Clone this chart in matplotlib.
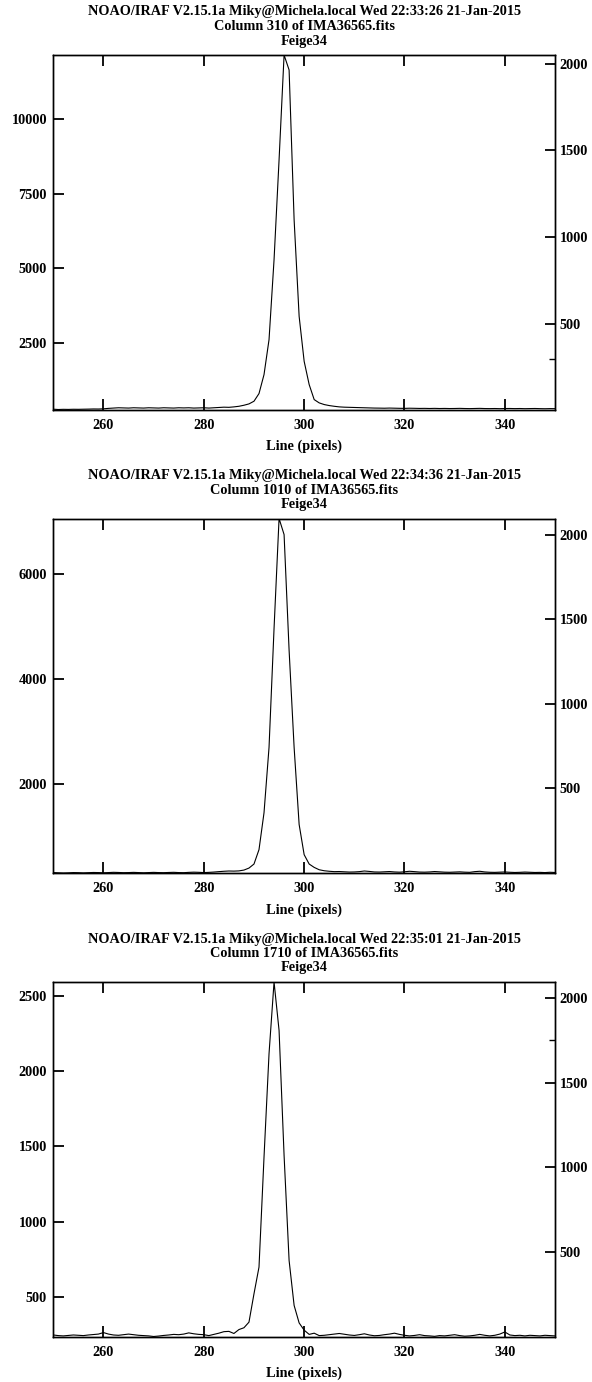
"""
Feige34 column cuts
===================
Three IRAF implot column cuts through the standard star Feige34,
redrawn with matplotlib.
"""

import numpy as np
import matplotlib
matplotlib.use("Agg")
import matplotlib.pyplot as plt

# ── Data ──────────────────────────────────────────────────────────────────────
# counts along the image lines 250..350

line_first, line_last = 250, 350

col_310 = [
    262, 252, 258, 255, 260, 258, 262, 265, 270, 268,
    275, 290, 300, 310, 305, 300, 310, 305, 300, 310,
    305, 300, 310, 305, 300, 310, 305, 310, 300, 305,
    310, 300, 310, 320, 330, 325, 340, 360, 395, 440,
    530, 787, 1424, 2598, 5282, 8637, 12160, 11657, 6624, 3381,
    1871, 1089, 585, 474, 418, 384, 360, 340, 330, 325,
    320, 315, 310, 305, 300, 298, 295, 300, 296, 292,
    290, 295, 292, 288, 290, 286, 290, 285, 288, 284,
    286, 290, 285, 282, 286, 290, 284, 282, 285, 280,
    284, 286, 282, 285, 280, 283, 286, 281, 278, 282,
    280,
]

col_1010 = [
    300, 296, 292, 295, 300, 298, 294, 298, 302, 300,
    296, 300, 305, 302, 298, 300, 304, 300, 296, 300,
    304, 300, 298, 302, 305, 300, 298, 304, 308, 305,
    300, 304, 310, 318, 325, 330, 328, 332, 348, 386,
    463, 738, 1442, 2690, 4961, 7060, 6753, 4545, 2690, 1218,
    642, 463, 399, 354, 335, 325, 318, 320, 315, 310,
    312, 318, 330, 322, 312, 310, 315, 320, 312, 308,
    315, 325, 318, 310, 308, 312, 320, 314, 308, 306,
    310, 314, 308, 305, 318, 325, 312, 306, 304, 308,
    312, 306, 302, 305, 310, 306, 302, 304, 300, 306,
    302,
]

col_1710 = [
    250, 246, 244, 247, 250, 248, 246, 250, 253, 256,
    266, 256, 250, 248, 252, 256, 252, 248, 246, 244,
    240, 243, 247, 250, 254, 252, 256, 264, 258, 254,
    252, 246, 254, 262, 272, 274, 260, 286, 298, 335,
    523, 700, 1429, 2115, 2590, 2269, 1440, 744, 446, 330,
    282, 254, 262, 246, 248, 252, 256, 260, 255, 250,
    247, 252, 258, 250, 245, 247, 252, 256, 262, 254,
    248, 244, 247, 252, 246, 244, 241, 246, 244, 248,
    252, 246, 242, 244, 248, 254, 248, 244, 248, 256,
    270, 250, 246, 248, 244, 248, 246, 244, 248, 246,
    244,
]

columns = [310, 1010, 1710]
times = ["22:33:26", "22:34:36", "22:35:01"]
object_name = "Feige34"
header = "NOAO/IRAF V2.15.1a Miky@Michela.local Wed {} 21-Jan-2015"

x_ticks = [260, 280, 300, 320, 340]
left_ticks = [
    [2500, 5000, 7500, 10000],
    [2000, 4000, 6000],
    [500, 1000, 1500, 2000, 2500],
]
right_ticks = [500, 1000, 1500, 2000]
right_ranges = [(8, 2049), (0, 2095), (0, 2095)]
right_extra = [[300], [], [1750]]


# ── Plot ──────────────────────────────────────────────────────────────────────

def bold_labels(labels):
    for lab in labels:
        lab.set_fontfamily("Liberation Serif")
        lab.set_fontweight("bold")


def plot_cuts(output="out.png"):
    W, H = 592, 1382
    fig = plt.figure(figsize=(W / 100, H / 100), dpi=100)
    fig.patch.set_facecolor("white")

    font = dict(family="Liberation Serif", fontweight="bold", fontsize=10.3)
    left_px, right_px, height_px = 53.3, 555.0, 354.5
    tops = [55.0, 518.5, 982.0]
    cx = (left_px + right_px) / 2 / W

    lines = np.arange(line_first, line_last + 1)
    series = [col_310, col_1010, col_1710]

    for i, counts in enumerate(series):
        top = tops[i]
        ax = fig.add_axes([left_px / W, 1 - (top + height_px) / H,
                           (right_px - left_px) / W, height_px / H])
        counts = np.array(counts)
        ax.plot(lines, counts, color="black", linewidth=0.8)
        # IRAF autoscales to the data range
        ax.set_xlim(line_first, line_last)
        ax.set_ylim(counts.min(), counts.max())

        ax.set_xticks(x_ticks)
        ax.set_yticks(left_ticks[i])
        ax.tick_params(axis="both", direction="in", length=8, width=1.3,
                       top=True, right=False, labelsize=10.3)
        ax.tick_params(axis="x", pad=6.5)
        ax.tick_params(axis="y", pad=4.5)
        bold_labels(ax.get_xticklabels() + ax.get_yticklabels())
        for sp in ax.spines.values():
            sp.set_linewidth(1.0)

        # second scale on the right
        ax2 = ax.twinx()
        ax2.set_ylim(*right_ranges[i])
        ax2.set_yticks(right_ticks)
        ax2.set_yticks(right_extra[i], minor=True)
        ax2.tick_params(axis="y", which="major", direction="in", length=7,
                        width=1.3, pad=3.5, labelsize=10.3)
        ax2.tick_params(axis="y", which="minor", direction="in", length=4,
                        width=1.0)
        bold_labels(ax2.get_yticklabels())
        for sp in ax2.spines.values():
            sp.set_linewidth(1.0)

        fig.text(cx, 1 - (top + height_px + 37) / H, "Line (pixels)",
                 ha="center", va="center", **font)

        # three-line IRAF header
        fig.text(cx, 1 - (top - 43) / H, header.format(times[i]),
                 ha="center", va="center", **font)
        fig.text(cx, 1 - (top - 28.5) / H,
                 f"Column {columns[i]} of IMA36565.fits",
                 ha="center", va="center", **font)
        fig.text(cx, 1 - (top - 14) / H, object_name,
                 ha="center", va="center", **font)

    fig.savefig(output, dpi=100)


if __name__ == "__main__":
    plot_cuts()
